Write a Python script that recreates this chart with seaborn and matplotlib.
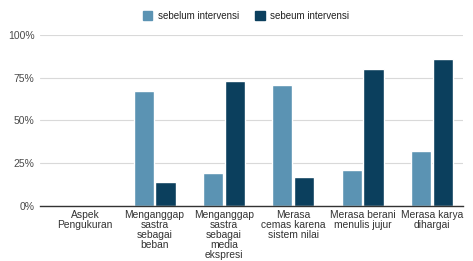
import numpy as np
import pandas as pd
import matplotlib
matplotlib.use("Agg")
import matplotlib.pyplot as plt
import seaborn as sns

# ── Data ──────────────────────────────────────────────────────────────────────
categories = ["Aspek\nPengukuran",
              "Menganggap\nsastra\nsebagai\nbeban",
              "Menganggap\nsastra\nsebagai\nmedia\nekspresi",
              "Merasa\ncemas karena\nsistem nilai",
              "Merasa berani\nmenulis jujur",
              "Merasa karya\ndihargai"]
series_names = ["sebelum intervensi", "sebeum intervensi"]
sebelum = [np.nan, 0.67, 0.19, 0.71, 0.21, 0.32]
sesudah = [np.nan, 0.14, 0.73, 0.17, 0.80, 0.86]
colors = ["#5b93b3", "#0b3f5d"]

df = pd.DataFrame({
    "Aspek": categories * 2,
    "Seri": [series_names[0]] * len(categories) + [series_names[1]] * len(categories),
    "Nilai": sebelum + sesudah,
})

# ── Chart ─────────────────────────────────────────────────────────────────────
sns.set_theme(style="white")
plt.rcParams["font.family"] = ["Liberation Sans", "DejaVu Sans"]

fig = plt.figure(figsize=(4.73, 2.61), dpi=100)
ax = fig.add_axes([0.085, 0.211, 0.894, 0.655])

sns.barplot(data=df, x="Aspek", y="Nilai", hue="Seri", order=categories,
            hue_order=series_names, palette=colors, width=0.63, gap=0.08,
            ax=ax, legend=False, saturation=1)

ax.set_xlim(-0.65, 5.45)
ax.set_ylim(0, 1.0)
ax.set_yticks([0, 0.25, 0.5, 0.75, 1.0])
ax.set_yticklabels(["0%", "25%", "50%", "75%", "100%"])
ax.yaxis.grid(True, color="#d9d9d9", linewidth=0.8)
ax.set_axisbelow(True)
ax.tick_params(axis="y", labelsize=7.5, colors="#4a4a4a", length=0, pad=4)
ax.tick_params(axis="x", labelsize=7.4, colors="#333333", length=0, pad=3)
for lbl in ax.get_xticklabels():
    lbl.set_linespacing(1.0)
ax.set_xlabel("")
ax.set_ylabel("")
for side in ["top", "right", "left"]:
    ax.spines[side].set_visible(False)
ax.spines["bottom"].set_color("#333333")
ax.spines["bottom"].set_linewidth(1.0)

handles = [plt.Rectangle((0, 0), 1, 1, color=c) for c in colors]
fig.legend(handles, series_names, loc="center", bbox_to_anchor=(0.52, 0.94),
           ncol=2, frameon=False, fontsize=7, handlelength=1.0, handleheight=1.0,
           handletextpad=0.6, columnspacing=1.6, labelcolor="#222222")

fig.savefig("out.png", dpi=100)
plt.close(fig)
